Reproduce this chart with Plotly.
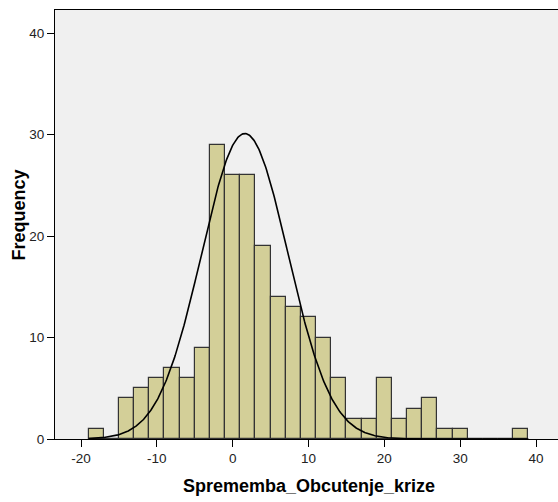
import numpy as np
import plotly.graph_objects as go

# Histogram bins (bin width 2), centres and counts
bin_centers = [-18, -16, -14, -12, -10, -8, -6, -4, -2, 0, 2, 4, 6, 8, 10, 12,
               14, 16, 18, 20, 22, 24, 26, 28, 30, 32, 34, 36, 38]
counts = [1, 0, 4, 5, 6, 7, 6, 9, 29, 26, 26, 19, 14, 13, 12, 10,
          6, 2, 2, 6, 2, 3, 4, 1, 1, 0, 0, 0, 1]
bin_width = 2

# Normal curve parameters (estimated)
curve_mean = 1.6
curve_sd = 5.7

x_ticks = [-20, -10, 0, 10, 20, 30, 40]
x_tick_labels = ["-20", "-10", "0", "10", "20", "30", "40"]
y_ticks = [0, 10, 20, 30, 40]
y_tick_labels = ["0", "10", "20", "30", "40"]
x_title = "Sprememba_Obcutenje_krize"
y_title = "Frequency"

N = sum(counts)
xc = np.linspace(-19, 39, 600)
yc = N * bin_width / (curve_sd * np.sqrt(2 * np.pi)) * np.exp(-0.5 * ((xc - curve_mean) / curve_sd) ** 2)

FONT = "Liberation Sans, Arial, sans-serif"

fig = go.Figure()
fig.add_trace(go.Bar(
    x=bin_centers, y=counts, width=bin_width,
    marker=dict(color="#D3CF98", line=dict(color="#333333", width=1.2)),
    hoverinfo="x+y", showlegend=False,
))
fig.add_trace(go.Scatter(
    x=xc, y=yc, mode="lines", line=dict(color="black", width=1.6),
    showlegend=False, hoverinfo="skip",
))

fig.update_layout(
    width=558, height=502,
    margin=dict(l=55, r=0, t=10, b=63),
    paper_bgcolor="white", plot_bgcolor="#F0F0F0",
    bargap=0,
    font=dict(family=FONT, size=13, color="#222222"),
    xaxis=dict(
        range=[-23.43, 42.9], tickvals=x_ticks, ticktext=x_tick_labels,
        ticks="outside", ticklen=7,
        tickcolor="black", tickwidth=1, showline=True, linecolor="black",
        linewidth=1, mirror=True, showgrid=False, zeroline=False,
        tickfont=dict(size=13.5, family=FONT, color="#222222"),
    ),
    yaxis=dict(
        range=[0, 42.27], tickvals=y_ticks, ticktext=y_tick_labels,
        ticks="outside", ticklen=7,
        tickcolor="black", tickwidth=1, showline=True, linecolor="black",
        linewidth=1, mirror=False, showgrid=False, zeroline=False,
        tickfont=dict(size=13.5, family=FONT, color="#222222"),
    ),
    annotations=[
        dict(text="<b>" + x_title + "</b>", xref="paper", yref="paper",
             x=(308.5 - 55) / 503, y=-(485.7 - 439) / 429, xanchor="center", yanchor="middle",
             showarrow=False, font=dict(size=18, family=FONT, color="black")),
        dict(text="<b>" + y_title + "</b>", xref="paper", yref="paper",
             x=-(55 - 18.5) / 503, y=(439 - 215) / 429, xanchor="center", yanchor="middle",
             textangle=-90, showarrow=False, font=dict(size=18, family=FONT, color="black")),
    ],
)

fig.write_html("out.html")
